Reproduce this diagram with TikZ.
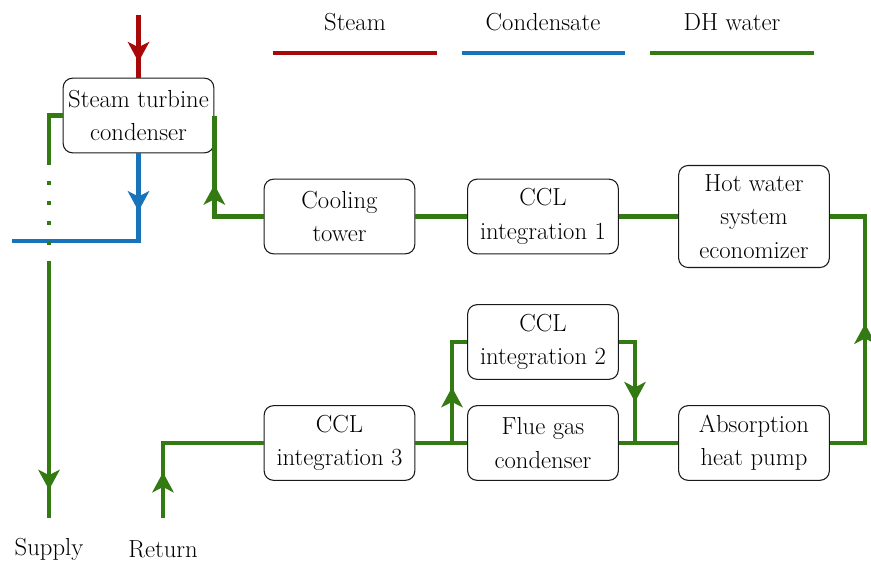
\documentclass[tikz,border=0pt]{standalone}
\usetikzlibrary{arrows.meta,decorations.markings}

\definecolor{steamred}{RGB}{168,8,8}
\definecolor{condblue}{RGB}{24,116,186}
\definecolor{dhgreen}{RGB}{52,122,18}

\tikzset{
	pipe/.style={line width=3.5pt},
	steam/.style={pipe, draw=steamred},
	cond/.style={pipe, draw=condblue},
	dh/.style={pipe, draw=dhgreen},
	flowarrow/.style={postaction={decorate, decoration={markings,
		mark=at position #1 with {\arrow{Stealth[length=15pt,width=16pt,inset=4pt]}}}}},
	unit/.style={draw=black!90, line width=0.8pt, rounded corners=7pt, fill=white,
		align=center, inner sep=0pt, minimum width=113pt, minimum height=56pt},
	lbl/.style={text=black},
}

\begin{document}
\begin{tikzpicture}[x=0.75pt, y=-0.75pt, font=\fontsize{18.5}{25}\selectfont]
	\useasboundingbox (0,0) rectangle (871,568);
	
	% legend
	\node[lbl] (lgsteam) at (355,22) {Steam};
	\node[lbl] (lgcond) at (543,22) {Condensate};
	\node[lbl] (lgdh) at (732,22) {DH water};
	\draw[steam] (273,53) -- (437,53);
	\draw[cond] (462,53) -- (625,53);
	\draw[dh] (650,53) -- (814,53);
	
	% units
	\node[unit] (stc) at (138.5,115.5) {Steam turbine\\condenser};
	\node[unit] (ct) at (339.5,216.5) {Cooling\\tower};
	\node[unit] (ccl1) at (543,216.5) {CCL\\integration 1};
	\node[unit, minimum height=76.5pt] (hwe) at (754,216.5) {Hot water\\system\\economizer};
	\node[unit] (ccl2) at (543,342) {CCL\\integration 2};
	\node[unit] (ccl3) at (339.5,443) {CCL\\integration 3};
	\node[unit] (fgc) at (543,443) {Flue gas\\condenser};
	\node[unit] (ahp) at (754,443) {Absorption\\heat pump};
	
	\node[lbl] (supplylbl) at (49,549) {Supply};
	\node[lbl] (returnlbl) at (163,549) {Return};
	
	% free ends and bends
	\coordinate (steamin) at (138.5,15);
	\coordinate (condout) at (12,241);
	\coordinate (sup1) at (49,165);
	\coordinate (sup2) at (49,262);
	\coordinate (supply) at (49,518);
	\coordinate (ret) at (163,518);
	\coordinate (jl) at (452,443);
	\coordinate (jr) at (635,443);
	\coordinate (rtop) at (865,216.5);
	
	% steam and condensate
	\draw[steam, flowarrow=0.75] (steamin) -- (stc.north);
	\draw[cond, flowarrow=0.27] (stc.south) |- (condout);
	
	% DH water
	\draw[dh, flowarrow=0.26] (ret) |- (ccl3.west);
	\draw[dh] (ccl3.east) -- (fgc.west);
	\draw[dh, flowarrow=0.48] (jl) |- (ccl2.west);
	\draw[dh, flowarrow=0.65] (ccl2.east) -| (jr);
	\draw[dh] (fgc.east) -- (ahp.west);
	\draw[dh, flowarrow=0.52] (ahp.east) -| (rtop) -- (hwe.east);
	\draw[dh] (hwe.west) -- (ccl1.east);
	\draw[dh] (ccl1.west) -- (ct.east);
	\draw[dh, flowarrow=0.54] (ct.west) -| (stc.east);
	\draw[dh] (stc.west) -| (sup1);
	\draw[dh, dash pattern=on 3pt off 12pt, dash phase=3pt] (sup1) -- (sup2);
	\draw[dh, flowarrow=0.89] (sup2) -- (supply);
\end{tikzpicture}
\end{document}
